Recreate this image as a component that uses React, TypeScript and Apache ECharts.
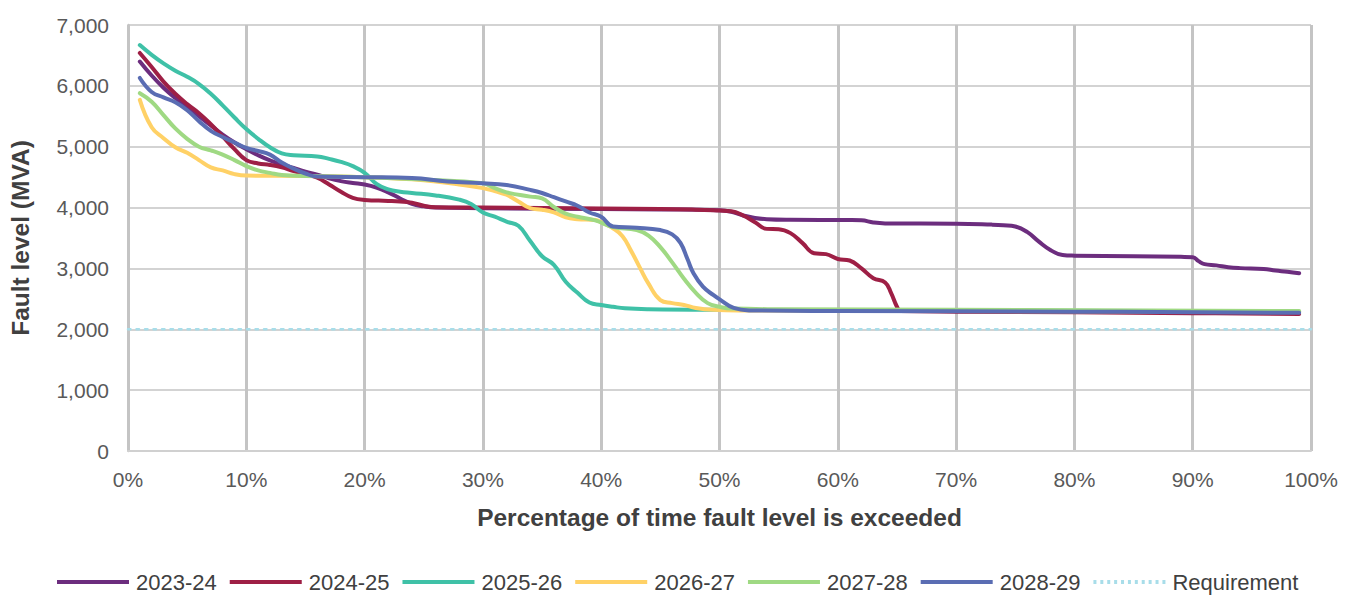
import React, { useEffect, useRef } from "react";
import * as echarts from "echarts";

const seriesNames = ["2023-24", "2024-25", "2025-26", "2026-27", "2027-28", "2028-29", "Requirement"];
const seriesColors = ["#6C2D7E", "#9E1F45", "#3FC1A7", "#FFD166", "#9FD983", "#5A6DB3", "#A8DDE9"];

const s2023: number[][] = [[1,6400],[2,6170],[3,5970],[4,5800],[5,5650],[6,5500],[7,5350],[8,5200],[9,5070],[10,4960],[11,4860],[12,4775],[13,4710],[14,4650],[15,4590],[16,4540],[17,4480],[18,4435],[19,4405],[20,4380],[21,4330],[22,4250],[23,4150],[24,4060],[25,4020],[26,4000],[30,3990],[40,3975],[45,3970],[50,3955],[51,3930],[52,3870],[53,3830],[54,3810],[56,3800],[61,3795],[62,3790],[63,3755],[64,3740],[70,3735],[73,3720],[74,3710],[75,3690],[76,3600],[77,3440],[78,3300],[79,3220],[80,3210],[85,3200],[89,3190],[90,3185],[90.5,3120],[91,3070],[92,3050],[93,3020],[94,3005],[96,2990],[97,2965],[98,2945],[99,2920]];
const s2024: number[][] = [[1,6540],[2,6310],[3,6070],[4,5870],[5,5700],[6,5550],[7,5370],[8,5170],[9,4960],[10,4780],[11,4725],[12,4700],[13,4660],[14,4600],[15,4550],[16,4490],[17,4380],[18,4260],[19,4160],[20,4125],[22,4110],[23,4100],[24,4080],[25,4030],[26,4005],[30,4000],[40,3985],[45,3978],[48,3965],[50,3950],[51,3940],[52,3870],[53,3760],[54,3650],[55,3645],[56,3580],[57,3420],[58,3250],[59,3235],[60,3155],[61,3130],[62,3000],[63,2840],[64,2770],[64.5,2600],[65,2370],[65.3,2300],[70,2290],[80,2280],[90,2265],[99,2250]];
const s2025: number[][] = [[1,6670],[2,6510],[3,6370],[4,6250],[5,6150],[6,6030],[7,5870],[8,5680],[9,5480],[10,5290],[11,5130],[12,4990],[13,4890],[14,4860],[16,4840],[17,4800],[18,4750],[19,4680],[20,4570],[21,4390],[22,4300],[23,4260],[24,4240],[26,4200],[28,4130],[29,4060],[30,3920],[31,3850],[32,3770],[33,3700],[34,3450],[35,3200],[36,3060],[37,2780],[38,2600],[39,2440],[40,2400],[41,2370],[42,2345],[44,2330],[50,2320],[70,2310],[99,2290]];
const s2026: number[][] = [[1,5770],[2,5320],[3,5140],[4,4990],[5,4900],[6,4780],[7,4660],[8,4610],[9,4550],[10,4525],[15,4520],[20,4500],[25,4450],[28,4380],[30,4320],[31,4270],[32,4210],[33,4100],[34,3990],[35,3965],[36,3920],[37,3840],[38,3810],[39.5,3795],[40,3760],[41,3660],[41.8,3530],[42.5,3300],[43.3,3000],[44,2750],[45,2480],[46,2430],[47,2400],[48,2350],[49.5,2320],[52,2310],[70,2300],[99,2290]];
const s2027: number[][] = [[1,5880],[2,5740],[3,5520],[4,5300],[5,5130],[6,5000],[7,4940],[8,4870],[9,4780],[10,4680],[11,4610],[12,4570],[13,4535],[15,4520],[20,4500],[25,4460],[30,4400],[31,4320],[32,4250],[34,4180],[35,4150],[36,4010],[37,3900],[38,3850],[39.5,3790],[41,3680],[43,3630],[44,3540],[45,3350],[46,3100],[47,2830],[48,2600],[49,2430],[50,2370],[51,2340],[55,2330],[70,2320],[99,2300]];
const s2028: number[][] = [[1,6130],[2,5900],[3,5810],[4,5730],[5,5600],[6,5420],[7,5260],[8,5160],[9,5070],[10,4980],[11,4930],[12,4870],[13,4740],[14,4640],[15,4560],[16,4510],[20,4500],[24,4485],[27,4430],[30,4400],[32,4370],[34,4290],[35,4240],[36,4170],[37,4100],[38,4030],[39,3920],[40,3850],[41,3690],[43,3670],[45,3630],[46,3560],[46.7,3420],[47.3,3150],[47.8,2920],[48.6,2700],[49.5,2560],[50.1,2480],[51.2,2350],[52.6,2310],[60,2300],[80,2290],[99,2270]];
const requirement: number[][] = [[0,2000],[100,2000]];

const allData = [s2023, s2024, s2025, s2026, s2027, s2028, requirement];

const FONT = "'Liberation Sans', Arial, sans-serif";

function dotsIcon(): string {
  let d = "path://";
  for (let x = 0; x <= 69; x += 6.9) {
    d += `M${x.toFixed(1)},0h3v4h-3z `;
  }
  return d.trim();
}

export default function App() {
  const ref = useRef<HTMLDivElement>(null);
  useEffect(() => {
    document.body.style.margin = "0";
    const chart = echarts.init(ref.current!, null, { renderer: "svg" });
    const series = allData.map((d, i) => {
      const isReq = i === 6;
      return {
        name: seriesNames[i],
        type: "line",
        data: d,
        showSymbol: false,
        symbol: "none",
        smooth: isReq ? false : 0.45,
        z: 2 + i,
        lineStyle: {
          color: seriesColors[i],
          width: isReq ? 2.5 : 4,
          type: isReq ? [2.5, 6] : "solid",
          cap: "round",
          join: "round",
        },
        itemStyle: { color: seriesColors[i] },
      };
    });
    const legendData = seriesNames.map((n, i) => ({
      name: n,
      icon: i === 6 ? dotsIcon() : "rect",
      itemStyle: { color: seriesColors[i] },
    }));
    chart.setOption({
      animation: false,
      textStyle: { fontFamily: FONT },
      grid: { left: 127, right: 35, top: 25, bottom: 144, containLabel: false },
      legend: {
        data: legendData,
        bottom: 2,
        left: 57,
        padding: 0,
        itemWidth: 72,
        itemHeight: 4,
        itemGap: 13,
        symbolKeepAspect: false,
        textStyle: { fontFamily: FONT, fontSize: 22, color: "#404040", padding: [0, 0, 0, 2] },
      },
      xAxis: {
        type: "value",
        min: 0,
        max: 100,
        interval: 10,
        name: "Percentage of time fault level is exceeded",
        nameLocation: "middle",
        nameGap: 54,
        nameTextStyle: { fontFamily: FONT, fontSize: 24.5, fontWeight: "bold", color: "#404040" },
        axisLine: { show: true, lineStyle: { color: "#D0D0D0", width: 2 } },
        axisTick: { show: false },
        axisLabel: {
          formatter: (v: number) => `${v}%`,
          fontFamily: FONT,
          fontSize: 21,
          color: "#595959",
          margin: 18,
        },
        splitLine: { show: true, lineStyle: { color: "#C4C4C4", width: 3 } },
      },
      yAxis: {
        type: "value",
        min: 0,
        max: 7000,
        interval: 1000,
        name: "Fault level (MVA)",
        nameLocation: "middle",
        nameGap: 95,
        nameRotate: 90,
        nameTextStyle: { fontFamily: FONT, fontSize: 24.5, fontWeight: "bold", color: "#404040" },
        axisLine: { show: true, lineStyle: { color: "#C4C4C4", width: 2.5 } },
        axisTick: { show: false },
        axisLabel: {
          formatter: (v: number) => v.toLocaleString("en-US"),
          fontFamily: FONT,
          fontSize: 21,
          color: "#595959",
          margin: 19,
        },
        splitLine: { show: true, lineStyle: { color: "#D3D3D3", width: 2 } },
      },
      series,
    });
    return () => chart.dispose();
  }, []);
  return <div ref={ref} style={{ width: 1346, height: 595 }} />;
}
